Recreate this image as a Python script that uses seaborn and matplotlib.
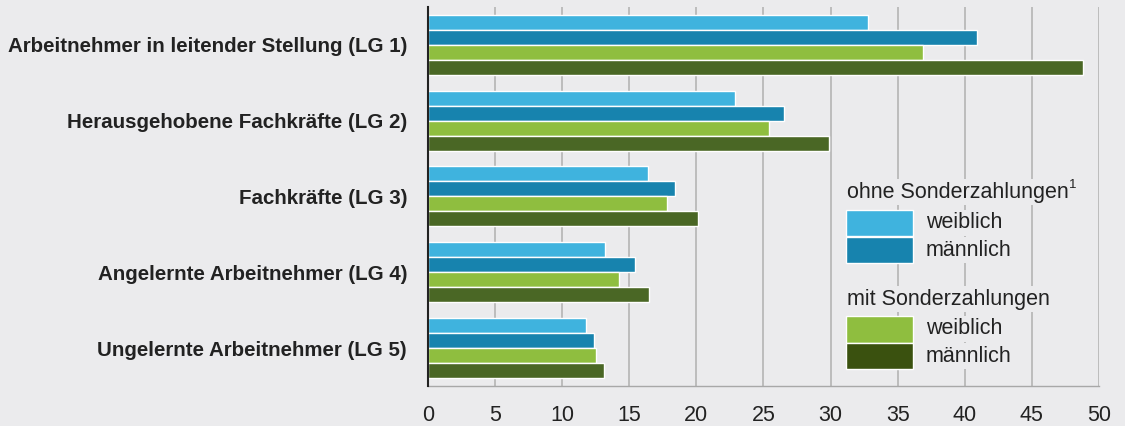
import matplotlib
matplotlib.use("Agg")
import matplotlib.pyplot as plt
import seaborn as sns
import pandas as pd
from matplotlib.patches import Rectangle

categories = [
    "Arbeitnehmer in leitender Stellung (LG 1)",
    "Herausgehobene Fachkräfte (LG 2)",
    "Fachkräfte (LG 3)",
    "Angelernte Arbeitnehmer (LG 4)",
    "Ungelernte Arbeitnehmer (LG 5)",
]
series = ["ohne weiblich", "ohne männlich", "mit weiblich", "mit männlich"]
ohne_weiblich = [32.8, 22.9, 16.4, 13.2, 11.8]
ohne_maennlich = [40.9, 26.5, 18.4, 15.4, 12.4]
mit_weiblich = [36.9, 25.4, 17.8, 14.2, 12.5]
mit_maennlich = [48.8, 29.9, 20.1, 16.5, 13.1]
x_ticks = [0, 5, 10, 15, 20, 25, 30, 35, 40, 45, 50]

legend_title_1 = "ohne Sonderzahlungen"
legend_sup_1 = "1"
legend_title_2 = "mit Sonderzahlungen"
legend_labels = ["weiblich", "männlich"]

colors = ["#3fb3de", "#1783ae", "#8fbe3f", "#4a6725"]
legend_colors = ["#3fb3de", "#1783ae", "#8fbe3f", "#3a510f"]
bg = "#ebebed"

rows = []
for s, vals in zip(series, [ohne_weiblich, ohne_maennlich, mit_weiblich, mit_maennlich]):
    for c, v in zip(categories, vals):
        rows.append({"cat": c, "series": s, "value": v})
df = pd.DataFrame(rows)

sns.set_theme(style="white")
plt.rcParams["font.family"] = ["Liberation Sans", "DejaVu Sans"]

fig = plt.figure(figsize=(11.25, 4.26), dpi=100, facecolor=bg)
ax = fig.add_axes([0.3804, 0.094, 0.5965, 0.89])
ax.set_facecolor(bg)

sns.barplot(data=df, y="cat", x="value", hue="series", order=categories,
            hue_order=series, palette=colors, saturation=1, orient="h", width=0.79,
            edgecolor="white", linewidth=1.0, ax=ax, legend=False, zorder=3)

ax.set_xlim(0, 50)
ax.set_ylim(4.5, -0.5)
ax.set_xticks(x_ticks)
ax.set_xticklabels([str(t) for t in x_ticks], fontsize=15.5, color="#222222")
ax.set_xlabel("")
ax.set_ylabel("")
ax.tick_params(axis="y", length=0, pad=15, labelsize=14.8, labelcolor="#222222")
for lab in ax.get_yticklabels():
    lab.set_fontweight("bold")
ax.tick_params(axis="x", length=7, width=1, color="#a8a8a8", pad=7)
ax.xaxis.grid(True, color="#b4b4b4", linewidth=1.2, zorder=0)
ax.set_axisbelow(True)
for sp in ["top", "right"]:
    ax.spines[sp].set_visible(False)
ax.spines["left"].set_color("#222222")
ax.spines["left"].set_linewidth(1.5)
ax.spines["left"].set_zorder(5)
ax.spines["bottom"].set_color("#a8a8a8")
ax.spines["bottom"].set_linewidth(1.0)

# legend (drawn in figure pixel coords)
W, H = 1125, 426
def fx(px):
    return px / W
def fy(py):
    return 1 - py / H

txt_kw = dict(fontsize=15.5, color="#222222", va="center", ha="left",
              bbox=dict(facecolor=bg, edgecolor="none", pad=1.5))
fig.text(fx(847), fy(192), legend_title_1, **txt_kw)
fig.text(fx(1069), fy(185), legend_sup_1, fontsize=9.5, color="#222222",
         va="center", ha="left")
fig.text(fx(847), fy(299), legend_title_2, **txt_kw)
sw_x, sw_w, sw_h = 846, 67, 26.5
ys = [210, 236.5, 316, 342.5]
lab_y = [223, 250, 329, 356]
for i, (y0, c) in enumerate(zip(ys, legend_colors)):
    fig.patches.append(Rectangle((fx(sw_x), fy(y0 + sw_h)), sw_w / W, sw_h / H,
                                 transform=fig.transFigure, facecolor=c,
                                 edgecolor="white", linewidth=1.0, zorder=5))
    fig.text(fx(926), fy(lab_y[i]), legend_labels[i % 2], **txt_kw)

fig.savefig("out.png", dpi=100, facecolor=bg)
